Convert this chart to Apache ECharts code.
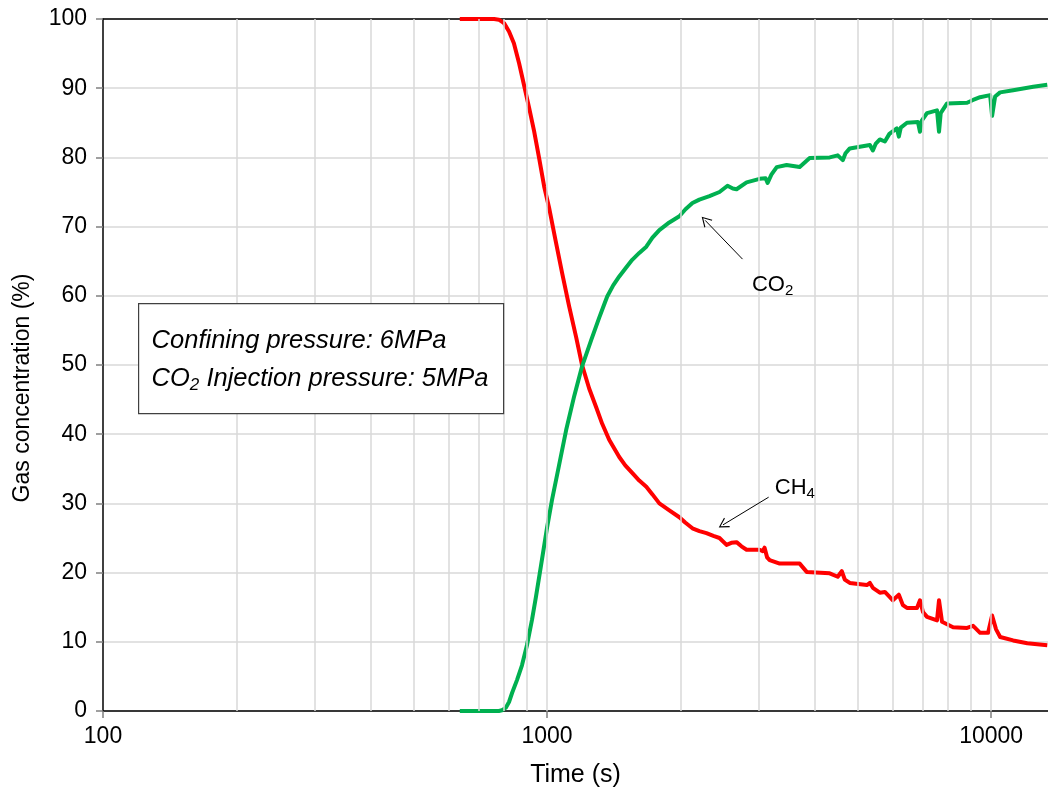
<!DOCTYPE html>
<html lang="en">
<head>
    <meta charset="UTF-8">
    <title>Gas concentration</title>
    <script src="https://cdn.jsdelivr.net/npm/echarts@6/dist/echarts.min.js"></script>
    <style>
        body { margin: 0; background: #fff; }
        #main { width: 1048px; height: 795px; }
    </style>
</head>
<body>
    <div id="main"></div>
    <script>
        // time (s) and concentration (%)
        var ch4Time = [636, 760, 779, 800, 821, 842, 865, 887, 911, 935, 959, 985, 1010, 1045, 1081, 1121, 1163, 1199, 1244, 1290,
            1331, 1380, 1454, 1500, 1555, 1613, 1673, 1727, 1790, 1885, 1986, 2050, 2125, 2203, 2285, 2369, 2445, 2536, 2600,
            2671, 2740, 2814, 3010, 3060, 3089, 3130, 3171, 3341, 3706, 3843, 4330, 4514, 4610, 4682, 4805, 5250, 5333, 5416,
            5616, 5764, 5886, 6008, 6197, 6328, 6463, 6808, 6915, 7023, 7171, 7553, 7632, 7752, 8210, 8829, 9108, 9445, 9845,
            10050, 10260, 10480, 11210, 12060, 13380];
        var ch4Value = [100, 100, 99.9, 99.4, 98.2, 96.5, 93.6, 90.5, 87.2, 83.8, 80.0, 75.8, 72.8, 68.0, 63.3, 58.5, 54.0, 50.0, 46.6, 43.9,
            41.5, 39.2, 36.7, 35.5, 34.4, 33.3, 32.4, 31.3, 30.0, 29.0, 28.0, 27.2, 26.4, 26.0, 25.7, 25.3, 25.0, 24.0, 24.3,
            24.4, 23.8, 23.3, 23.3, 23.1, 23.6, 22.2, 21.8, 21.3, 21.3, 20.1, 19.9, 19.4, 20.2, 19.0, 18.5, 18.2, 18.5, 17.8,
            17.1, 17.2, 16.6, 16.0, 16.8, 15.3, 14.9, 14.9, 16.0, 14.3, 13.6, 13.1, 16.0, 12.9, 12.1, 12.0, 12.3, 11.3, 11.3,
            13.8, 11.8, 10.7, 10.2, 9.8, 9.5];

        var co2Time = [636, 779, 791, 808, 821, 834, 856, 878, 901, 925, 944, 969, 1000, 1026, 1064, 1104, 1151, 1199, 1257, 1310,
            1340, 1366, 1409, 1454, 1507, 1555, 1613, 1673, 1727, 1790, 1885, 1986, 2050, 2125, 2203, 2321, 2445, 2549, 2620,
            2671, 2814, 3010, 3105, 3138, 3200, 3290, 3463, 3706, 3903, 4330, 4514, 4634, 4700, 4805, 5333, 5416, 5500, 5616,
            5764, 5900, 6133, 6197, 6260, 6463, 6843, 6915, 6980, 7171, 7553, 7632, 7700, 7957, 8829, 9108, 9445, 9948, 10050,
            10210, 10476, 11210, 12440, 13380];
        var co2Value = [0, 0, 0.1, 0.5, 1.3, 2.6, 4.5, 6.6, 9.5, 13.2, 16.5, 21.0, 26.5, 30.5, 35.5, 40.6, 45.5, 49.8, 53.6, 56.8,
            58.5, 59.9, 61.5, 62.8, 64.1, 65.2, 66.2, 67.1, 68.4, 69.5, 70.6, 71.5, 72.5, 73.4, 73.9, 74.4, 75.0, 75.9, 75.5,
            75.4, 76.4, 76.9, 77.0, 76.3, 77.5, 78.6, 78.9, 78.6, 79.9, 80.0, 80.3, 79.6, 80.6, 81.3, 81.8, 81.0, 82.0, 82.6,
            82.3, 83.4, 84.2, 83.0, 84.3, 85.0, 85.1, 83.7, 85.3, 86.4, 86.8, 83.7, 86.4, 87.8, 87.9, 88.3, 88.7, 89.0, 86.0,
            88.8, 89.4, 89.7, 90.2, 90.5];

        var minorGrid = [200, 300, 400, 500, 600, 700, 800, 900, 1000, 2000, 3000, 4000, 5000, 6000, 7000, 8000, 9000, 10000];

        function pairs(xs, ys) {
            var out = [];
            for (var i = 0; i < xs.length; i++) out.push([xs[i], ys[i]]);
            return out;
        }

        var font = 'Arial, "Liberation Sans", sans-serif';
        // thin open arrow head, tip at the top
        var arrowHead = 'path://M5,0 L10,10 L9.1,10.5 L5,2.3 L0.9,10.5 L0,10 Z';

        var chart = echarts.init(document.getElementById('main'));
        var option = {
            animation: false,
            backgroundColor: '#fff',
            grid: { left: 103, top: 19, right: 0, bottom: 84, containLabel: false, outerBoundsMode: 'none' },
            xAxis: [{
                type: 'log',
                logBase: 10,
                min: 100,
                max: 13430,
                name: 'Time (s)',
                nameLocation: 'middle',
                nameGap: 52,
                nameTextStyle: { fontFamily: font, fontSize: 25, color: '#000' },
                axisLine: { lineStyle: { color: '#000', width: 1.5 } },
                axisTick: { show: true, length: 7, lineStyle: { color: '#808080', width: 1.5 } },
                axisLabel: {
                    fontFamily: font, fontSize: 23, color: '#000', margin: 14, showMaxLabel: false,
                    formatter: function (v) { return String(Math.round(v)); }
                },
                splitLine: { show: false }
            }, {
                type: 'log',
                logBase: 10,
                min: 100,
                max: 13430,
                position: 'top',
                axisLine: { lineStyle: { color: '#000', width: 1.5 } },
                axisTick: { show: false },
                axisLabel: { show: false },
                splitLine: { show: false }
            }],
            yAxis: {
                type: 'value',
                min: 0,
                max: 100,
                interval: 10,
                name: 'Gas concentration (%)',
                nameLocation: 'middle',
                nameGap: 69,
                nameTextStyle: { fontFamily: font, fontSize: 23, color: '#000', padding: [0, 46, 0, 0] },
                axisLine: { show: true, lineStyle: { color: '#000', width: 1.5 } },
                axisTick: { show: true, length: 7, lineStyle: { color: '#808080', width: 1.5 } },
                axisLabel: { fontFamily: font, fontSize: 23, color: '#000', margin: 16 },
                splitLine: { lineStyle: { color: '#d9d9d9', width: 1.5 } }
            },
            series: [
                {
                    // vertical log grid lines
                    type: 'line',
                    data: [],
                    z: 1,
                    silent: true,
                    markLine: {
                        silent: true,
                        symbol: ['none', 'none'],
                        label: { show: false },
                        lineStyle: { color: '#d9d9d9', width: 1.5, type: 'solid' },
                        data: minorGrid.map(function (v) { return { xAxis: v }; })
                    }
                },
                {
                    // arrows and gas labels
                    type: 'line',
                    data: [],
                    z: 5,
                    silent: true,
                    markLine: {
                        silent: true,
                        symbol: ['none', arrowHead],
                        symbolSize: [11, 10],
                        label: { show: false },
                        lineStyle: { color: '#000', width: 1, type: 'solid' },
                        data: [
                            [{ coord: [2755, 65.3] }, { coord: [2270, 70.9] }],
                            [{ coord: [3155, 30.9] }, { coord: [2490, 26.9] }]
                        ]
                    },
                    markPoint: {
                        silent: true,
                        symbol: 'circle',
                        symbolSize: 0,
                        label: {
                            show: true,
                            position: 'inside',
                            color: '#000',
                            fontFamily: font,
                            fontSize: 22,
                            rich: {
                                m: { fontFamily: font, fontSize: 22, color: '#000' },
                                s: { fontFamily: font, fontSize: 15, color: '#000', padding: [12, 0, 0, 0] }
                            }
                        },
                        data: [
                            { coord: [3220, 61.6], label: { formatter: '{m|CO}{s|2}' } },
                            { coord: [3615, 32.2], label: { formatter: '{m|CH}{s|4}' } }
                        ]
                    }
                },
                {
                    name: 'CH4',
                    type: 'line',
                    z: 3,
                    data: pairs(ch4Time, ch4Value),
                    showSymbol: false,
                    lineStyle: { color: '#ff0000', width: 4, join: 'round' },
                    itemStyle: { color: '#ff0000' }
                },
                {
                    name: 'CO2',
                    type: 'line',
                    z: 3,
                    data: pairs(co2Time, co2Value),
                    showSymbol: false,
                    lineStyle: { color: '#00b050', width: 4, join: 'round' },
                    itemStyle: { color: '#00b050' }
                }
            ],
            graphic: [{
                type: 'group',
                left: 138,
                top: 303,
                z: 100,
                children: [{
                    type: 'rect',
                    z: 100,
                    shape: { x: 0, y: 0, width: 365, height: 110 },
                    style: { fill: '#fff', stroke: '#404040', lineWidth: 1.2 }
                }, {
                    type: 'text',
                    z: 101,
                    x: 13,
                    y: 18,
                    style: {
                        text: '{t|Confining pressure: 6MPa}\n{t|CO}{s|2}{t| Injection pressure: 5MPa}',
                        fill: '#000',
                        font: 'italic 25.5px ' + font,
                        lineHeight: 38,
                        rich: {
                            t: { fontStyle: 'italic', fontSize: 25.5, fontFamily: font, fill: '#000', lineHeight: 38 },
                            s: { fontStyle: 'italic', fontSize: 17, fontFamily: font, fill: '#000', padding: [13, 0, 0, 0], lineHeight: 38 }
                        }
                    }
                }]
            }]
        };
        chart.setOption(option);
    </script>
</body>
</html>
